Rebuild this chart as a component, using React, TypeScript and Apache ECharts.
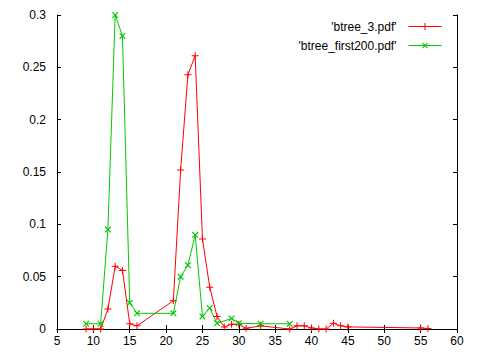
import React, { useEffect, useRef } from "react";
import * as echarts from "echarts";

const seriesNames = ["'btree_3.pdf'", "'btree_first200.pdf'"];

const redX = [9, 10, 11, 12, 13, 14, 15, 16, 21, 22, 23, 24, 25, 26, 27, 28, 29, 30, 31, 33, 37, 38, 39, 40, 41, 42, 43, 44, 45, 55, 56];
const redY = [0, 0, 0, 0.019, 0.06, 0.056, 0.005, 0.003, 0.027, 0.152, 0.243, 0.261, 0.086, 0.04, 0.012, 0.002, 0.0045, 0.0045, 0.0007, 0.003, 0, 0.003, 0.003, 0.001, 0, 0, 0.0055, 0.003, 0.002, 0.001, 0.0005];

const greenX = [9, 11, 12, 13, 14, 15, 16, 21, 22, 23, 24, 25, 26, 27, 29, 30, 33, 37];
const greenY = [0.005, 0.005, 0.095, 0.3, 0.28, 0.025, 0.015, 0.015, 0.05, 0.061, 0.09, 0.012, 0.02, 0.0055, 0.01, 0.0055, 0.005, 0.005];

const xTicks = { min: 5, max: 60, interval: 5 };
const yTicks = { min: 0, max: 0.3, interval: 0.05 };

const PLUS = "path://M3,0H4V3H7V4H4V7H3V4H0V3H3Z";
const FONT = "'Liberation Sans', Arial, sans-serif";

export default function App() {
  const ref = useRef<HTMLDivElement>(null);
  useEffect(() => {
    if (!ref.current) return;
    const chart = echarts.init(ref.current, undefined, { renderer: "svg" });
    const axisLine = { show: true, lineStyle: { color: "#000", width: 1 } };
    const tick = { show: true, inside: true, length: 4, lineStyle: { color: "#000" } };
    chart.setOption({
      animation: false,
      grid: { left: 57, right: 23, top: 15, bottom: 31, containLabel: false },
      legend: {
        orient: "vertical",
        right: 38,
        top: 20.5,
        padding: 0,
        align: "right",
        itemWidth: 33,
        itemHeight: 9,
        itemGap: 7,
        selectedMode: false,
        lineStyle: { width: 1 },
        textStyle: { fontFamily: FONT, fontSize: 12, color: "#000", padding: [0, 7, 0, 0] },
        data: seriesNames,
      },
      xAxis: [
        {
          type: "value", position: "bottom", ...xTicks,
          axisLine, axisTick: tick, splitLine: { show: false },
          axisLabel: { color: "#000", fontFamily: FONT, fontSize: 12, margin: 6 },
        },
        {
          type: "value", position: "top", ...xTicks,
          axisLine, axisTick: tick, splitLine: { show: false },
          axisLabel: { show: false },
        },
      ],
      yAxis: [
        {
          type: "value", position: "left", ...yTicks,
          axisLine, axisTick: tick, splitLine: { show: false },
          axisLabel: { color: "#000", fontFamily: FONT, fontSize: 12, margin: 11 },
        },
        {
          type: "value", position: "right", ...yTicks,
          axisLine, axisTick: tick, splitLine: { show: false },
          axisLabel: { show: false },
        },
      ],
      series: [
        {
          name: seriesNames[0],
          type: "line",
          data: redX.map((x, i) => [x, redY[i]]),
          symbol: PLUS,
          symbolSize: 7,
          showAllSymbol: true,
          lineStyle: { color: "#ff0000", width: 1 },
          itemStyle: { color: "#ff0000" },
          silent: true,
        },
        {
          name: seriesNames[1],
          type: "line",
          data: greenX.map((x, i) => [x, greenY[i]]),
          symbol: PLUS,
          symbolSize: 8,
          symbolRotate: 45,
          showAllSymbol: true,
          lineStyle: { color: "#00c800", width: 1 },
          itemStyle: { color: "#00c800" },
          silent: true,
        },
      ],
    });
    return () => chart.dispose();
  }, []);
  return (
    <div
      ref={ref}
      style={{ position: "fixed", left: 0, top: 0, width: 480, height: 360, background: "#fff" }}
    />
  );
}
